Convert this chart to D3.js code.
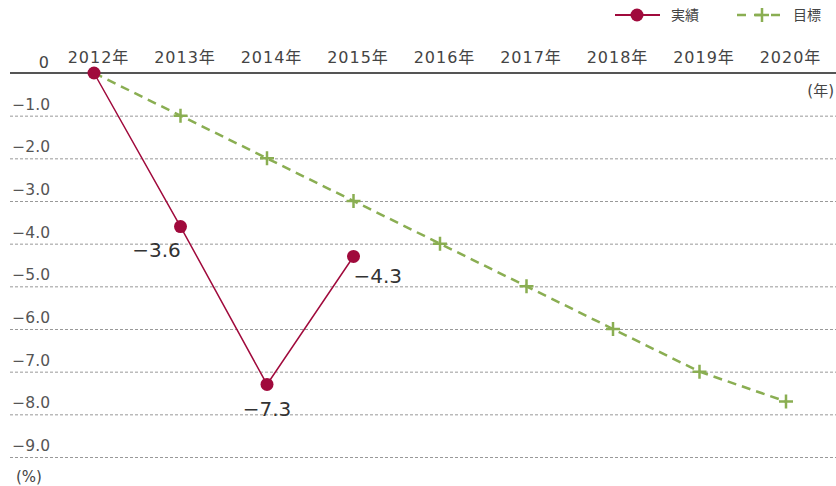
<!DOCTYPE html>
<html>
<head>
<meta charset="utf-8">
<script src="https://cdnjs.cloudflare.com/ajax/libs/d3/7.8.5/d3.min.js"></script>
<style>
  body { margin: 0; background: #fff; }
  svg text { font-family: "DejaVu Sans", "Noto Sans CJK JP", sans-serif; }
</style>
</head>
<body>
<svg id="chart" width="836" height="486"></svg>
<script>
var years = [2012, 2013, 2014, 2015, 2016, 2017, 2018, 2019, 2020];
var yearLabels = ["2012年", "2013年", "2014年", "2015年", "2016年", "2017年", "2018年", "2019年", "2020年"];
var actualYears = [2012, 2013, 2014, 2015];
var actualValues = [0, -3.6, -7.3, -4.3];
var targetValues = [0, -1.0, -2.0, -3.0, -4.0, -5.0, -6.0, -7.0, -7.7];
var yTicks = [-1, -2, -3, -4, -5, -6, -7, -8, -9];
var yTickLabels = ["−1.0", "−2.0", "−3.0", "−4.0", "−5.0", "−6.0", "−7.0", "−8.0", "−9.0"];

var svg = d3.select("#chart");
var red = "#a00a3c", green = "#8aae52";

var x = d3.scaleLinear().domain([2012, 2020]).range([94, 786]);
var y = d3.scaleLinear().domain([0, -9]).range([73, 457]);

// dotted grid
svg.append("g").selectAll("line").data(yTicks).enter().append("line")
  .attr("x1", 10).attr("x2", 836)
  .attr("y1", function(d) { return y(d) + 0.5; })
  .attr("y2", function(d) { return y(d) + 0.5; })
  .attr("stroke", "#999").attr("stroke-width", 1)
  .attr("stroke-dasharray", "3,2");

svg.append("g").selectAll("text").data(yTicks).enter().append("text")
  .attr("x", 50).attr("y", function(d) { return y(d) - 6; })
  .attr("text-anchor", "end")
  .attr("font-size", 15.5).attr("fill", "#555")
  .text(function(d, i) { return yTickLabels[i]; });

// zero axis
svg.append("line")
  .attr("x1", 10).attr("x2", 836).attr("y1", y(0)).attr("y2", y(0))
  .attr("stroke", "#555").attr("stroke-width", 2);

svg.append("text").attr("x", 49).attr("y", 68).attr("text-anchor", "end")
  .attr("font-size", 16).attr("fill", "#444").text("0");

// year labels
var xAxis = d3.axisTop(x).tickValues(years).tickSize(0)
  .tickFormat(function(d, i) { return yearLabels[i]; });
var gx = svg.append("g").attr("transform", "translate(4,66)").call(xAxis);
gx.select(".domain").remove();
gx.selectAll("text").attr("font-size", 16).attr("fill", "#444")
  .attr("letter-spacing", "1px")
  .style("font-family", "\"DejaVu Sans\", \"Noto Sans CJK JP\", sans-serif");

svg.append("text").attr("x", 834).attr("y", 96).attr("text-anchor", "end")
  .attr("font-size", 15).attr("fill", "#444").text("(年)");
svg.append("text").attr("x", 16).attr("y", 482)
  .attr("font-size", 15).attr("fill", "#444").text("(%)");

// target line
var targetData = years.map(function(yr, i) { return { x: yr, v: targetValues[i] }; });
var line = d3.line().x(function(d) { return x(d.x); }).y(function(d) { return y(d.v); });
svg.append("path").datum(targetData).attr("d", line)
  .attr("fill", "none").attr("stroke", green).attr("stroke-width", 2.5)
  .attr("stroke-dasharray", "9,6");
svg.append("g").selectAll("path").data(targetData.slice(1)).enter().append("path")
  .attr("d", function(d) {
    var cx = x(d.x), cy = y(d.v);
    return "M" + (cx - 7) + "," + cy + "H" + (cx + 7) + "M" + cx + "," + (cy - 7) + "V" + (cy + 7);
  })
  .attr("stroke", green).attr("stroke-width", 2.5).attr("fill", "none");

// actual line
var actualData = actualYears.map(function(yr, i) { return { x: yr, v: actualValues[i] }; });
svg.append("path").datum(actualData).attr("d", line)
  .attr("fill", "none").attr("stroke", red).attr("stroke-width", 1.5);
svg.append("g").selectAll("circle").data(actualData).enter().append("circle")
  .attr("cx", function(d) { return x(d.x); })
  .attr("cy", function(d) { return y(d.v); })
  .attr("r", 6.5).attr("fill", red);

// value labels
var labelOffsets = [null, { dx: -24, dy: 30, a: "middle" }, { dx: 0, dy: 32, a: "middle" }, { dx: 0, dy: 27, a: "start" }];
svg.append("g").selectAll("text").data(actualData.slice(1)).enter().append("text")
  .attr("x", function(d, i) { return x(d.x) + labelOffsets[i + 1].dx; })
  .attr("y", function(d, i) { return y(d.v) + labelOffsets[i + 1].dy; })
  .attr("text-anchor", function(d, i) { return labelOffsets[i + 1].a; })
  .attr("font-size", 20).attr("fill", "#333")
  .text(function(d) { return "−" + Math.abs(d.v).toFixed(1); });

// legend
var lg = svg.append("g");
lg.append("line").attr("x1", 615).attr("x2", 660).attr("y1", 15).attr("y2", 15)
  .attr("stroke", red).attr("stroke-width", 2);
lg.append("circle").attr("cx", 637).attr("cy", 15).attr("r", 6.5).attr("fill", red);
lg.append("text").attr("x", 671).attr("y", 20).attr("font-size", 14).attr("fill", "#444").text("実績");
lg.append("line").attr("x1", 737).attr("x2", 787).attr("y1", 15).attr("y2", 15)
  .attr("stroke", green).attr("stroke-width", 2.5).attr("stroke-dasharray", "9,8");
lg.append("path").attr("d", "M755,15H769M762,8V22").attr("stroke", green).attr("stroke-width", 2.5);
lg.append("text").attr("x", 793).attr("y", 20).attr("font-size", 14).attr("fill", "#444").text("目標");
</script>
</body>
</html>
